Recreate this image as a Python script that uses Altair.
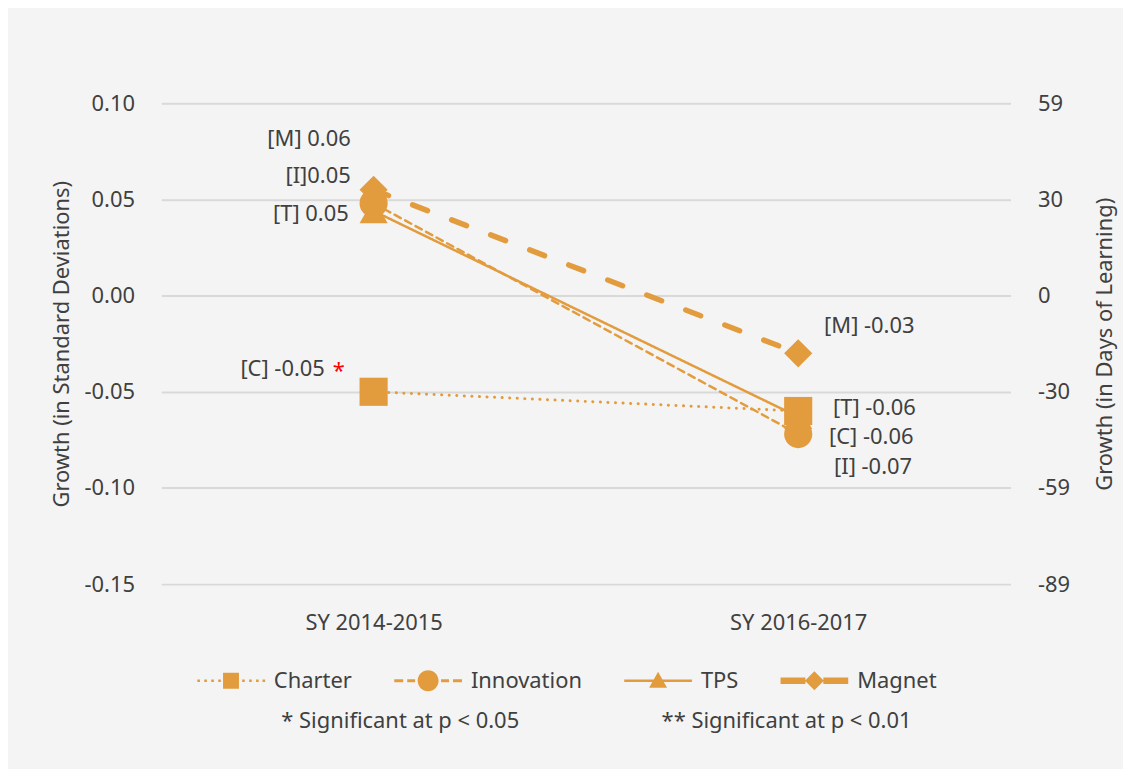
import altair as alt
import pandas as pd

# ---------------- data ----------------
years = ["SY 2014-2015", "SY 2016-2017"]
series = ["Charter", "Innovation", "TPS", "Magnet"]
charter_vals = [-0.050, -0.060]
innovation_vals = [0.048, -0.072]
tps_vals = [0.044, -0.063]
magnet_vals = [0.055, -0.030]
charter_labels = ["[C] -0.05", "[C] -0.06"]
innovation_labels = ["[I]0.05", "[I] -0.07"]
tps_labels = ["[T] 0.05", "[T] -0.06"]
magnet_labels = ["[M] 0.06", "[M] -0.03"]
charter_sig = ["*", ""]
innovation_sig = ["", ""]
tps_sig = ["", ""]
magnet_sig = ["", ""]
y_ticks = [0.10, 0.05, 0.00, -0.05, -0.10, -0.15]
days_labels = ["59", "30", "0", "-30", "-59", "-89"]
footnotes = ["* Significant at p < 0.05", "** Significant at p < 0.01"]
left_title = "Growth (in Standard Deviations)"
right_title = "Growth (in Days of Learning)"

# ---------------- styles ----------------
ORANGE = "#E29C3E"
TEXT = "#404040"
FONT = "Noto Sans"
FS = 22
draw_order = ["TPS", "Charter", "Innovation", "Magnet"]
marker_shapes = ["square", "circle", "triangle-up", "diamond"]
line_dash = [[0.1, 7.5], [7, 5], [1, 0], [16, 26]]
line_width = [3, 2.5, 2.5, 5.5]

# legend sample glyphs (pixel geometry of a 68px wide sample, drawn as filled shapes)
HALF = 34.0


def u(v):
    return "%.4f" % (v / HALF)


def rect(x0, x1, h):
    return "M%s,%sH%sV%sH%sZ" % (u(x0), u(-h / 2), u(x1), u(h / 2), u(x0))


def square(r):
    return "M%s,%sH%sV%sH%sZ" % (u(-r), u(-r), u(r), u(r), u(-r))


def circle(r):
    return "M%s,0A%s,%s,0,1,1,%s,0A%s,%s,0,1,1,%s,0Z" % (u(r), u(r), u(r), u(-r), u(r), u(r), u(r))


def triangle(w, h):
    return "M0,%sL%s,%sL%s,%sZ" % (u(-h / 2 - 1), u(w / 2), u(h / 2 - 1), u(-w / 2), u(h / 2 - 1))


def diamond(r):
    return "M0,%sL%s,0L0,%sL%s,0Z" % (u(-r), u(r), u(r), u(-r))


dots = "".join(rect(c - 1.3, c + 1.3, 2.6) for c in [-32.5, -25.5, -18.5, -11.5, 12.5, 19.5, 26.5, 33])
legend_paths = [
    dots + square(8),
    rect(-34, -25, 3) + rect(-21, -13, 3) + circle(10.5) + rect(13, 21, 3) + rect(25, 34, 3),
    rect(-34, 34, 2.5) + triangle(18, 16),
    rect(-34, -9, 6.5) + rect(9, 34, 6.5) + diamond(9.5),
]

# label nudges: (series, year index) -> (dx, dy, align)
label_nudge = {
    ("Magnet", 0): (-23, -51, "right"),
    ("Innovation", 0): (-23, -27, "right"),
    ("TPS", 0): (-25, 3, "right"),
    ("Charter", 0): (-49, -23, "right"),
    ("Magnet", 1): (26, -27, "left"),
    ("TPS", 1): (35, -9, "left"),
    ("Charter", 1): (31, 26, "left"),
    ("Innovation", 1): (36, 33, "left"),
}
star_nudge = (-41, -21)
foot_pos = [(240, 621), (628, 621)]

# ---------------- table ----------------
vals = {"Charter": charter_vals, "Innovation": innovation_vals, "TPS": tps_vals, "Magnet": magnet_vals}
labs = {"Charter": charter_labels, "Innovation": innovation_labels, "TPS": tps_labels, "Magnet": magnet_labels}
sigs = {"Charter": charter_sig, "Innovation": innovation_sig, "TPS": tps_sig, "Magnet": magnet_sig}
rows = []
for s in series:
    for i, yr in enumerate(years):
        rows.append({"series": s, "year": yr, "yi": i, "value": vals[s][i],
                     "label": labs[s][i], "sig": sigs[s][i], "draw": draw_order.index(s)})
df = pd.DataFrame(rows)

yscale = alt.Scale(domain=[-0.15, 0.10], nice=False, zero=False)
xscale = alt.Scale(type="point", domain=years, padding=0.5)

x_axis = alt.X("year:N", scale=xscale, sort=years,
               axis=alt.Axis(title=None, domain=False, ticks=False, grid=False, labelAngle=0,
                             labelPadding=29, labelFont=FONT, labelFontSize=FS, labelColor=TEXT))

left_expr = "(datum.value < 0 ? '-' : '') + format(abs(datum.value), '.2f')"
right_expr = "[%s][indexof([%s], round(datum.value*100))]" % (
    ",".join("'%s'" % d for d in days_labels),
    ",".join(str(int(round(v * 100))) for v in y_ticks))

y_left = alt.Y("value:Q", scale=yscale,
               axis=alt.Axis(orient="left", values=y_ticks, labelExpr=left_expr, title=left_title,
                             domain=False, ticks=False, grid=True, gridColor="#d9d9d9", gridWidth=2,
                             labelPadding=27, labelFont=FONT, labelFontSize=FS, labelColor=TEXT,
                             titleFont=FONT, titleFontSize=FS, titleFontWeight="normal",
                             titleColor=TEXT, titlePadding=10))
y_right = alt.Y("value:Q", scale=yscale,
                axis=alt.Axis(orient="right", values=y_ticks, labelExpr=right_expr, title=right_title,
                              domain=False, ticks=False, grid=False,
                              labelPadding=27, labelFont=FONT, labelFontSize=FS, labelColor=TEXT,
                              titleFont=FONT, titleFontSize=FS, titleFontWeight="normal",
                              titleColor=TEXT, titlePadding=25, titleAngle=270, titleBaseline="top"))
y_none = alt.Y("value:Q", scale=yscale, axis=None)

base = alt.Chart(df)

line_layers = []
for k, s in enumerate(series):
    line_layers.append(
        base.transform_filter(alt.datum.series == s)
        .mark_line(color=ORANGE, strokeDash=line_dash[k], strokeWidth=line_width[k],
                   strokeCap="round", strokeJoin="round")
        .encode(x=x_axis, y=y_left if k == 0 else y_none)
    )

points = base.mark_point(filled=True, color=ORANGE, opacity=1, size=800).encode(
    x=x_axis, y=y_right,
    shape=alt.Shape("series:N", scale=alt.Scale(domain=series, range=marker_shapes), legend=None),
    order=alt.Order("draw:Q"),
)

label_layers = []
for (s, i), (dx, dy, al) in label_nudge.items():
    label_layers.append(
        base.transform_filter((alt.datum.series == s) & (alt.datum.yi == i))
        .mark_text(dx=dx, dy=dy, align=al, baseline="middle", font=FONT, fontSize=FS, color=TEXT)
        .encode(x=x_axis, y=y_none, text="label:N")
    )

star = base.transform_filter(alt.datum.sig != "").mark_text(
    dx=star_nudge[0], dy=star_nudge[1], align="left", baseline="middle",
    font=FONT, fontSize=FS, color="#FF0000").encode(x=x_axis, y=y_none, text="sig:N")

leg = alt.Legend(title=None, orient="none", legendX=36, legendY=546, direction="horizontal",
                 symbolSize=(2 * HALF) ** 2, labelOffset=9, columnPadding=42, padding=0,
                 labelFont=FONT, labelFontSize=FS, labelColor=TEXT,
                 symbolFillColor=ORANGE, symbolStrokeColor=ORANGE, symbolStrokeWidth=0,
                 symbolOpacity=1)
legend_layer = base.transform_filter("false").mark_point(filled=True, color=ORANGE, opacity=1).encode(
    x=x_axis, y=y_none,
    shape=alt.Shape("series:N", scale=alt.Scale(domain=series, range=legend_paths), legend=leg),
)

foot_layers = []
for note, (fx, fy) in zip(footnotes, foot_pos):
    foot_layers.append(
        alt.Chart(alt.Data(values=[{"note": note}])).mark_text(
            align="center", baseline="middle", font=FONT, fontSize=FS, color=TEXT)
        .encode(x=alt.value(fx), y=alt.value(fy), text="note:N")
    )

chart = alt.layer(*line_layers, points, *label_layers, star, legend_layer, *foot_layers).resolve_scale(
    shape="independent"
).resolve_axis(y="independent").properties(
    width=853, height=483,
    autosize=alt.AutoSizeParams(type="none"),
    padding={"left": 154, "top": 94, "right": 113, "bottom": 184},
    background="#f4f4f4",
).configure_view(stroke=None)

chart.save("out.html", embed_options={"renderer": "svg", "actions": False})
